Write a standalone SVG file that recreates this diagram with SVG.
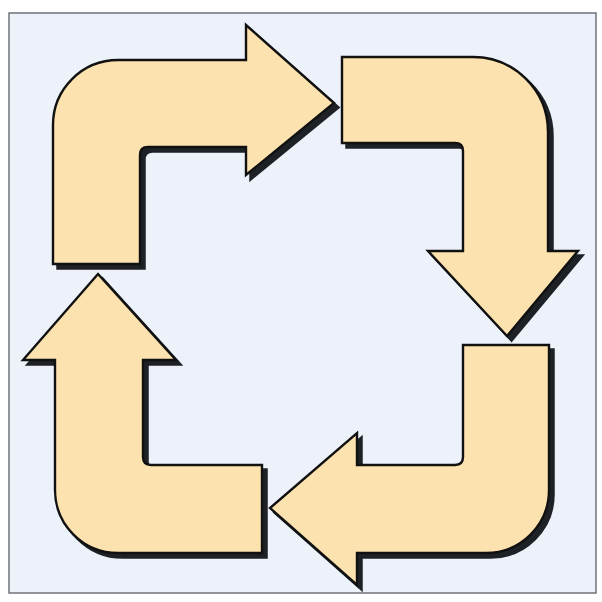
<svg xmlns="http://www.w3.org/2000/svg" xmlns:xlink="http://www.w3.org/1999/xlink" width="602" height="602" viewBox="0 0 602 602">
  <style>
    .shadow { fill: #1e2226; stroke: #1e2226; stroke-width: 2.5; }
    .arrow { fill: #FCE2AE; stroke: #111; stroke-width: 2.4; stroke-linejoin: miter; }
  </style>
  <defs>
    <path id="a1" d="M53,264 V125 A65,65 0 0 1 118,60 H246 V25 L334,103 L246,175 V147 H148 Q140,147 140,155 V264 Z"/>
    <path id="a2" d="M342,57 H473 A75,75 0 0 1 548,132 V251 H578 L507,336 L428,251 H463 V151 Q463,143 455,143 H342 Z"/>
    <path id="a3" d="M463,345 H549 V490 A63,63 0 0 1 486,553 H357 V585 L270,508 L357,433 V465 H455 Q463,465 463,457 Z"/>
    <path id="a4" d="M262,553 H118 A63,63 0 0 1 55,490 V360 H23 L98,274 L176,360 H143 V457 Q143,465 151,465 H262 Z"/>
  </defs>
  <rect x="0" y="0" width="602" height="602" fill="#ffffff"/>
  <rect x="9" y="13" width="587" height="580" fill="#EDF2FA" stroke="#6f7378" stroke-width="1.5"/>
  <g id="arrow-top">
    <use xlink:href="#a1" href="#a1" class="shadow" transform="translate(4.5,4.5)"/>
    <use xlink:href="#a1" href="#a1" class="arrow"/>
  </g>
  <g id="arrow-right">
    <use xlink:href="#a2" href="#a2" class="shadow" transform="translate(4.5,4.5)"/>
    <use xlink:href="#a2" href="#a2" class="arrow"/>
  </g>
  <g id="arrow-bottom">
    <use xlink:href="#a3" href="#a3" class="shadow" transform="translate(4.5,4.5)"/>
    <use xlink:href="#a3" href="#a3" class="arrow"/>
  </g>
  <g id="arrow-left">
    <use xlink:href="#a4" href="#a4" class="shadow" transform="translate(4.5,4.5)"/>
    <use xlink:href="#a4" href="#a4" class="arrow"/>
  </g>
  <g id="connectors"/>
</svg>
